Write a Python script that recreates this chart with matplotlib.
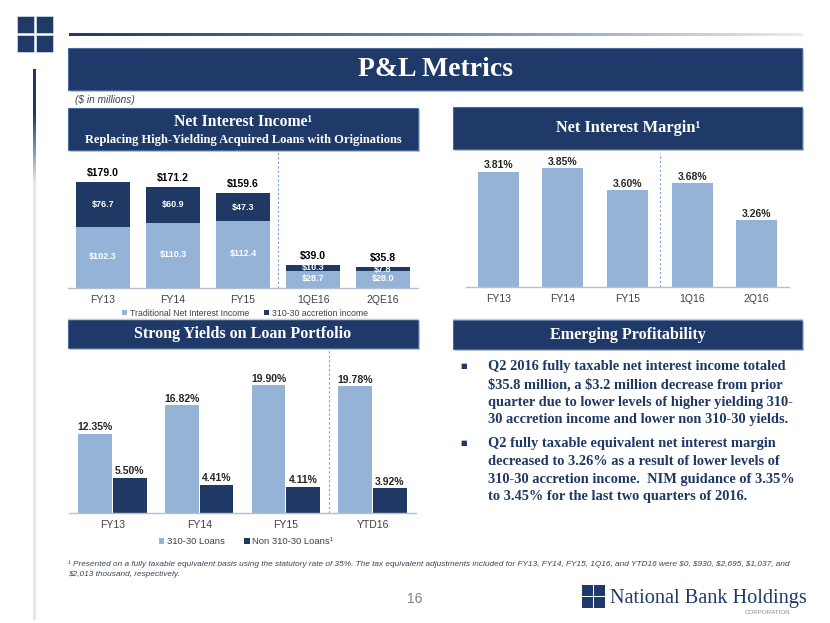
import matplotlib
matplotlib.use("Agg")
import matplotlib.pyplot as plt
import numpy as np
from matplotlib.patches import Rectangle
from matplotlib.colors import LinearSegmentedColormap

W, H = 830, 623

# Net Interest Income ($ millions)
nii_periods = ["FY13", "FY14", "FY15", "1QE16", "2QE16"]
nii_traditional = [102.3, 110.3, 112.4, 28.7, 28.0]
nii_accretion = [76.7, 60.9, 47.3, 10.3, 7.8]
nii_total = [179.0, 171.2, 159.6, 39.0, 35.8]

# Net Interest Margin (%)
nim_periods = ["FY13", "FY14", "FY15", "1Q16", "2Q16"]
nim_values = [3.81, 3.85, 3.60, 3.68, 3.26]

# Loan yields (%)
yield_periods = ["FY13", "FY14", "FY15", "YTD16"]
yield_31030 = [12.35, 16.82, 19.90, 19.78]
yield_non31030 = [5.50, 4.41, 4.11, 3.92]

bullet_1 = [
    "Q2 2016 fully taxable net interest income totaled",
    "$35.8 million, a $3.2 million decrease from prior",
    "quarter due to lower levels of higher yielding 310-",
    "30 accretion income and lower non 310-30 yields.",
]
bullet_2 = [
    "Q2 fully taxable equivalent net interest margin",
    "decreased to 3.26% as a result of lower levels of",
    "310-30 accretion income.  NIM guidance of 3.35%",
    "to 3.45% for the last two quarters of 2016.",
]
footnote = [
    "\u00b9 Presented on a fully taxable equivalent basis using the statutory rate of 35%. "
    "The tax equivalent adjustments included for FY13, FY14, FY15, 1Q16, and YTD16 were "
    "$0, $930, $2,695, $1,037, and",
    "$2,013 thousand, respectively.",
]

NAVY = "#1F3A68"
LIGHT = "#95B3D7"
DARK = "#1F3864"
GREY = "#404040"
SANS = "Liberation Sans"
SERIF = "Liberation Serif"

plt.rcParams["font.family"] = [SANS, "DejaVu Sans"]


def rect(x0, y0, x1, y1):
    return [x0 / W, 1 - y1 / H, (x1 - x0) / W, (y1 - y0) / H]


def fx(x):
    return x / W


def fy(y):
    return 1 - y / H


fig = plt.figure(figsize=(8.3, 6.23), dpi=100)
fig.patch.set_facecolor("white")


def add_rect(x0, y0, x1, y1, **kw):
    fig.patches.append(Rectangle((fx(x0), fy(y1)), (x1 - x0) / W, (y1 - y0) / H,
                                 transform=fig.transFigure, **kw))


def banner(x0, y0, x1, y1):
    add_rect(x0 + 2, y0 + 2, x1 + 2, y1 + 2, fc="#9AA3B0", ec="none", alpha=0.6)
    add_rect(x0, y0, x1, y1, fc=NAVY, ec="#4A6A9C", lw=0.8)


def btext(x, y, s, size):
    fig.text(fx(x), fy(y), s, ha="center", va="center", color="white",
             fontsize=size, fontweight="bold", family=SERIF)


# decoration: top-left squares and lines
for sx in (17, 36):
    for sy in (16, 35):
        add_rect(sx, sy, sx + 17, sy + 17, fc=NAVY, ec="#C9D3E3", lw=0.6)

grad_h = fig.add_axes(rect(69, 33, 802, 36))
grad_h.imshow(np.linspace(0, 1, 256)[None, :], aspect="auto",
              cmap=LinearSegmentedColormap.from_list("g", [NAVY, "#6F86AD", "#E8ECF3"]))
grad_h.axis("off")

grad_v = fig.add_axes(rect(33, 69, 35.5, 620))
grad_v.imshow(np.concatenate([np.zeros(45), np.linspace(0, 1, 70), np.ones(440)])[:, None],
              aspect="auto", cmap=LinearSegmentedColormap.from_list("v", [NAVY, "#E3E8F0"]))
grad_v.axis("off")

# banners
banner(68, 48, 802, 90)
btext(435, 70, "P&L Metrics", 20)
banner(68, 108, 418, 150)
btext(243, 122, "Net Interest Income\u00b9", 11.3)
btext(243, 140, "Replacing High-Yielding Acquired Loans with Originations", 9.0)
banner(453, 107, 802, 149)
btext(628, 128, "Net Interest Margin\u00b9", 11.8)
banner(68, 319, 418, 348)
btext(243, 334, "Strong Yields on Loan Portfolio", 11.6)
banner(453, 320, 802, 349)
btext(628, 335, "Emerging Profitability", 11.6)

fig.text(fx(75), fy(100), "($ in millions)", ha="left", va="center", fontsize=7.3,
         style="italic", color=GREY)

# separator lines under the top charts
for x0, x1 in ((68, 418), (453, 802)):
    fig.add_artist(plt.Line2D([fx(x0), fx(x1)], [fy(319), fy(319)],
                              transform=fig.transFigure, color="#C5CCD8", lw=1))


def style_axes(ax, labels):
    for s in ("top", "left", "right"):
        ax.spines[s].set_visible(False)
    ax.spines["bottom"].set_color("#B8BFCB")
    ax.spines["bottom"].set_linewidth(1)
    ax.set_yticks([])
    ax.set_xticks(np.arange(len(labels)), labels)
    ax.tick_params(axis="x", length=0, pad=5, labelsize=7.5, labelcolor=GREY)
    ax.set_xlim(-0.5, len(labels) - 0.5)
    ax.patch.set_alpha(0)


# chart 1: net interest income
ax1 = fig.add_axes(rect(68, 150, 418, 288))
x1 = np.arange(len(nii_periods))
ax1.bar(x1, nii_traditional, width=0.77, color=LIGHT, label="Traditional Net Interest Income")
ax1.bar(x1, nii_accretion, bottom=nii_traditional, width=0.77, color=DARK,
        label="310-30 accretion income")
ax1.set_ylim(0, 138 / 0.592)
style_axes(ax1, nii_periods)
ax1.axvline(2.5, color="#7F9FD0", lw=0.8, ls=(0, (2, 2)))
for i in range(len(x1)):
    ax1.annotate(f"${nii_total[i]:.1f}", (i, nii_total[i]), xytext=(0, 6.5),
                 textcoords="offset points", ha="center", va="center",
                 fontsize=7.5, fontweight="bold", color="black")
    ax1.text(i, nii_traditional[i] / 2 + 2, f"${nii_traditional[i]:.1f}", ha="center",
             va="center", fontsize=6.5, fontweight="bold", color="white")
    ax1.text(i, nii_traditional[i] + nii_accretion[i] / 2, f"${nii_accretion[i]:.1f}",
             ha="center", va="center", fontsize=6.5, fontweight="bold", color="white")
ax1.legend(loc="center", bbox_to_anchor=(fx(245), fy(313)), bbox_transform=fig.transFigure,
           ncol=2, frameon=False, fontsize=6.3, handlelength=0.6, handleheight=0.6,
           handletextpad=0.3, columnspacing=1.7, labelcolor=GREY)

# chart 2: net interest margin
ax2 = fig.add_axes(rect(466, 150, 789, 287))
x2 = np.arange(len(nim_periods))
ax2.bar(x2, nim_values, width=0.635, color=LIGHT)
ax2.set_ylim(2.5, 2.5 + 137 / 88.1)
style_axes(ax2, nim_periods)
ax2.axvline(2.5, ymax=(287 - 153) / 137, color="#7F9FD0", lw=0.8, ls=(0, (2, 2)))
for i, v in enumerate(nim_values):
    ax2.annotate(f"{v:.2f}%", (i, v), xytext=(0, 4.5), textcoords="offset points",
                 ha="center", va="center", fontsize=7.5, fontweight="bold", color="#262626")

# chart 3: loan yields
ax3 = fig.add_axes(rect(69, 348, 416, 513))
x3 = np.arange(len(yield_periods))
ax3.bar(x3 - 0.2, yield_31030, width=0.39, color=LIGHT, label="310-30 Loans")
ax3.bar(x3 + 0.2, yield_non31030, width=0.39, color=DARK, label="Non 310-30 Loans\u00b9")
ax3.set_ylim(0, 165 / 6.42)
style_axes(ax3, yield_periods)
ax3.axvline(2.5, color="#7F9FD0", lw=0.8, ls=(0, (2, 2)))
for i in range(len(x3)):
    for off, v in ((-0.2, yield_31030[i]), (0.2, yield_non31030[i])):
        ax3.annotate(f"{v:.2f}%", (i + off, v), xytext=(0, 4.5), textcoords="offset points",
                     ha="center", va="center", fontsize=7.5, fontweight="bold", color="#262626")
ax3.legend(loc="center", bbox_to_anchor=(fx(246), fy(542)), bbox_transform=fig.transFigure,
           ncol=2, frameon=False, fontsize=6.8, handlelength=0.6, handleheight=0.6,
           handletextpad=0.3, columnspacing=2.0, labelcolor=GREY)

# bullet text
for lines, y0 in ((bullet_1, 367), (bullet_2, 444)):
    fig.text(fx(464), fy(y0 - 1), "\u25a0", ha="center", va="center", fontsize=5,
             color=DARK, family="DejaVu Sans")
    for k, line in enumerate(lines):
        fig.text(fx(488), fy(y0 + k * 17.6), line, ha="left", va="center", fontsize=10.4,
                 fontweight="bold", color=DARK, family=SERIF, parse_math=False)

# footnote
for k, line in enumerate(footnote):
    fig.text(fx(68), fy(564 + k * 10.5), line, ha="left", va="center", fontsize=5.95,
             style="italic", color="#3A4356", parse_math=False)

fig.text(fx(415), fy(599), "16", ha="center", va="center", fontsize=10, color="#7F7F7F")

# logo
for sx in (582, 594):
    for sy in (585, 597):
        add_rect(sx, sy, sx + 11, sy + 11, fc=NAVY, ec="none")
fig.text(fx(610), fy(598), "National Bank Holdings", ha="left", va="center", fontsize=14.6,
         color=NAVY, family=SERIF)
fig.text(fx(790), fy(613), "CORPORATION", ha="right", va="center", fontsize=4.5,
         color="#8C8C8C")

fig.savefig("out.png", dpi=100)
